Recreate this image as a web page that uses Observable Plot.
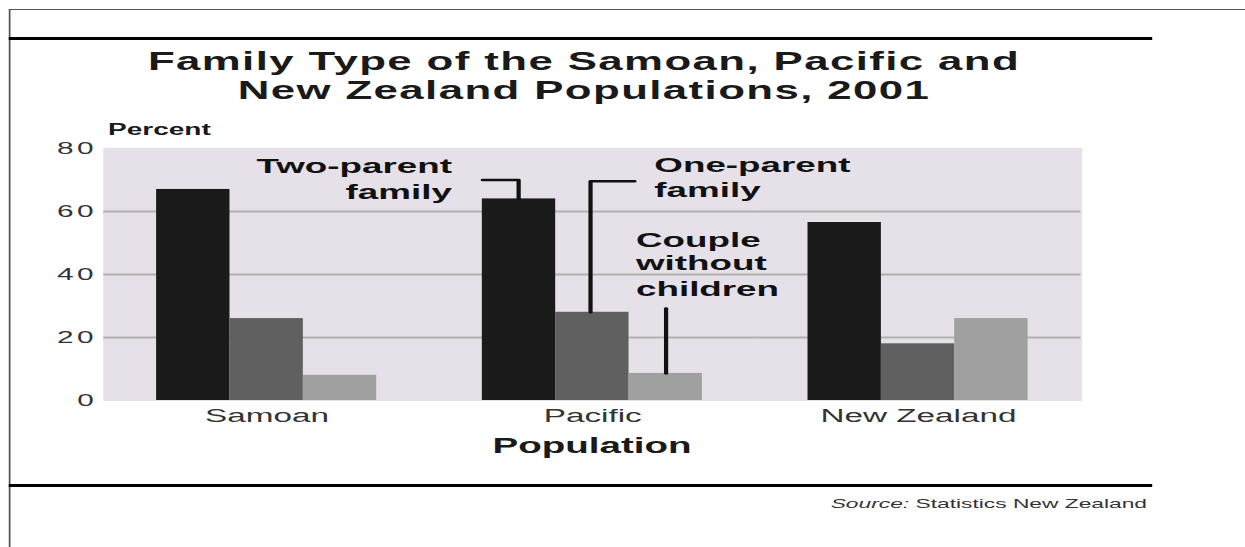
<!DOCTYPE html>
<html><head><meta charset="utf-8">
<script src="https://cdn.jsdelivr.net/npm/d3@7"></script>
<script src="https://cdn.jsdelivr.net/npm/@observablehq/plot@0.6"></script>
<style>
html,body{margin:0;padding:0;background:#fff;overflow:hidden;width:1245px;height:547px;}
#page{position:absolute;left:0;top:0;height:547px;transform-origin:0 0;font-family:"Liberation Sans",Arial,sans-serif;}
.abs{position:absolute;white-space:nowrap;line-height:1;}
.ln{position:absolute;}
</style></head><body>
<div id="page"></div>
<script>
// ---- data ----
const populations = ["Samoan", "Pacific", "New Zealand"];
const familyTypes = ["Two-parent family", "One-parent family", "Couple without children"];
const twoParentPct = [67, 64, 56.5];
const oneParentPct = [26, 28, 18];
const coupleNoChildrenPct = [8, 8.6, 26];
const yTicks = [0, 20, 40, 60, 80];
const gridTicks = [20, 40, 60];
const titleLines = ["Family Type of the Samoan, Pacific and", "New Zealand Populations, 2001"];
const yLabel = "Percent";
const xLabel = "Population";
const sourceItalic = "Source:";
const sourceText = " Statistics New Zealand";
const labelLines = [["Two-parent", "family"], ["One-parent", "family"], ["Couple", "without", "children"]];
const typeColors = ["#1a1a1a", "#606060", "#a0a0a0"];

// ---- layout ----
const W = 711, S = 1245 / W;
const page = document.getElementById("page");
page.style.width = W + "px";
page.style.transform = `scaleX(${S})`;
const X = (px) => px / S; // convert page px to logical px

function line(x1, x2, y, h, color) {
  const d = document.createElement("div");
  d.className = "ln";
  Object.assign(d.style, {left: X(x1) + "px", width: (X(x2) - X(x1)) + "px", top: y + "px", height: h + "px", background: color});
  page.appendChild(d);
}
function vline(x, y1, y2, w, color) {
  const d = document.createElement("div");
  d.className = "ln";
  Object.assign(d.style, {left: X(x) + "px", width: w + "px", top: y1 + "px", height: (y2 - y1) + "px", background: color});
  page.appendChild(d);
}
function text(html, {cx, left, right, baseline, size, weight = "normal", color = "#1a1a1a", lineHeight, spacing}) {
  const d = document.createElement("div");
  d.className = "abs";
  d.innerHTML = html;
  d.style.fontSize = size + "px";
  d.style.fontWeight = weight;
  d.style.color = color;
  if (spacing) d.style.letterSpacing = spacing + "px";
  const lh = lineHeight || size;
  d.style.lineHeight = lh + "px";
  d.style.top = (baseline - ((lh - 1.117 * size) / 2 + 0.905 * size)) + "px";
  if (cx != null) { d.style.left = (X(cx) - 400) + "px"; d.style.width = "800px"; d.style.textAlign = "center"; }
  else if (right != null) { d.style.right = (W - X(right)) + "px"; d.style.textAlign = "right"; }
  else d.style.left = X(left) + "px";
  page.appendChild(d);
}

// frame lines
line(8, 1245, 9, 1, "#555");
vline(8, 9, 547, 1, "#555");
line(8, 1152, 37, 2.5, "#000");
line(8, 1152, 484, 2.5, "#000");

// titles
text(titleLines.join("<br>"), {cx: 584, baseline: 70, size: 25, lineHeight: 29, spacing: 0.8, weight: "bold"});
text(yLabel, {left: 108, baseline: 135.5, size: 16, weight: "bold"});
text(xLabel, {cx: 592, baseline: 454, size: 22, weight: "bold"});
text(`<i>${sourceItalic}</i>${sourceText}`, {right: 1147, baseline: 508, size: 13, color: "#333"});

// ---- chart data table ----
const series = [twoParentPct, oneParentPct, coupleNoChildrenPct];
const rows = [];
populations.forEach((p, i) => familyTypes.forEach((t, j) => rows.push({population: p, type: t, index: j, value: series[j][i]})));

// annotations in the Pacific panel (x in bar-slot units, y in percent)
const annoPop = populations[1];
const labelLayout = [
  {x: -0.42, anchor: "end", ys: [74.3, 66.0]},
  {x: 2.34, anchor: "start", ys: [74.6, 66.7]},
  {x: 2.09, anchor: "start", ys: [50.8, 43.5, 35.2]}
];
const labelRows = [];
labelLines.forEach((ls, k) => ls.forEach((t, m) => labelRows.push({population: annoPop, text: t, x: labelLayout[k].x, y: labelLayout[k].ys[m], anchor: labelLayout[k].anchor})));
const leaderLayout = [
  [[0, 70], [0.49, 70], [0.49, series[0][1]]],
  [[2.07, 69.6], [1.47, 69.6], [1.47, series[1][1]]],
  [[2.5, 29.2], [2.5, series[2][1]]]
];
const leaderRows = [];
leaderLayout.forEach((pts, k) => pts.forEach(([x, y]) => leaderRows.push({population: annoPop, id: k, x, y})));

const bg = "#e6e0e8";
const chart = Plot.plot({
  width: W, height: 296,
  marginTop: 8, marginBottom: 36, marginLeft: 58, marginRight: 93,
  style: {fontFamily: '"Liberation Sans", Arial, sans-serif', background: "transparent", color: "#333", overflow: "visible"},
  fx: {domain: populations, padding: 0},
  x: {domain: [-0.72, 3.72], axis: null},
  y: {domain: [0, 80]},
  color: {domain: familyTypes, range: typeColors},
  marks: [
    Plot.frame({fill: bg, stroke: bg, strokeWidth: 1}),
    Plot.ruleY(gridTicks, {stroke: "#b0b0b0", strokeWidth: 2}),
    Plot.rect(rows, {fx: "population", x1: "index", x2: d => d.index + 1, y1: 0, y2: "value", fill: "type"}),
    Plot.line(leaderRows, {fx: "population", x: "x", y: "y", z: "id", stroke: "#111", strokeWidth: 2.4}),
    Plot.text(labelRows.filter(d => d.anchor === "end"), {fx: "population", x: "x", y: "y", text: "text", textAnchor: "end", fontSize: 21, fontWeight: "bold", fill: "#111"}),
    Plot.text(labelRows.filter(d => d.anchor === "start"), {fx: "population", x: "x", y: "y", text: "text", textAnchor: "start", fontSize: 21, fontWeight: "bold", fill: "#111"}),
    Plot.axisY({ticks: yTicks, tickSize: 0, tickPadding: 4, fontSize: 17, label: null}),
    Plot.axisFx({anchor: "bottom", tickSize: 0, tickPadding: 8, fontSize: 19, label: null})
  ]
});
chart.querySelectorAll('[aria-label="y-axis tick label"]').forEach(g => g.setAttribute("letter-spacing", "2"));
chart.style.position = "absolute";
chart.style.left = "0px";
chart.style.top = "140px";
page.appendChild(chart);
</script>
</body></html>
